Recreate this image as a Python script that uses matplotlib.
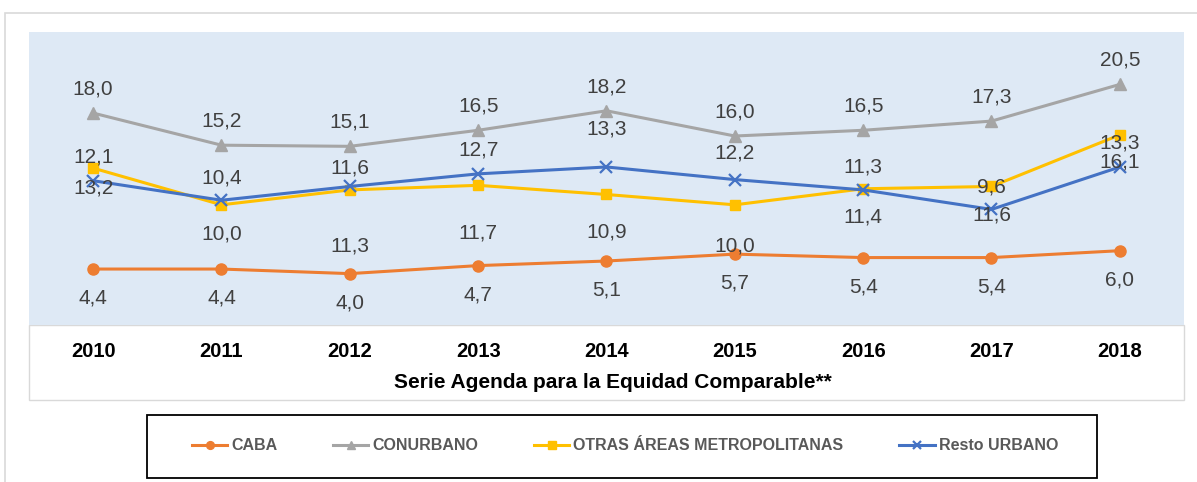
import numpy as np
import matplotlib
matplotlib.use("Agg")
import matplotlib.pyplot as plt
from matplotlib.patches import Rectangle

plt.rcParams['font.family'] = ['Liberation Sans', 'DejaVu Sans']

# data
years = ['2010', '2011', '2012', '2013', '2014', '2015', '2016', '2017', '2018']
caba = [4.4, 4.4, 4.0, 4.7, 5.1, 5.7, 5.4, 5.4, 6.0]
conurbano = [18.0, 15.2, 15.1, 16.5, 18.2, 16.0, 16.5, 17.3, 20.5]
otras = [13.2, 10.0, 11.3, 11.7, 10.9, 10.0, 11.4, 11.6, 16.1]
resto = [12.1, 10.4, 11.6, 12.7, 13.3, 12.2, 11.3, 9.6, 13.3]
series_names = ['CABA', 'CONURBANO', 'OTRAS ÁREAS METROPOLITANAS', 'Resto URBANO']
x_title = 'Serie Agenda para la Equidad Comparable**'

# label offsets in pixels (positive = below the point), as placed in the original
off_caba = [29] * 9
off_conurbano = [-24] * 9
off_otras = [20, 29, 56, 48, 38, 41, 28, 29, 27]
off_resto = [-24, -22, -18, -24, -38, -27, -23, -22, -24]

W, H = 1197, 482
fig = plt.figure(figsize=(W / 100, H / 100), dpi=100)

# chart area border, white axis band, legend box
fig.patches.append(Rectangle((5 / W, -0.1), 1.2, 1 - 13 / H + 0.1, transform=fig.transFigure,
                             fill=False, edgecolor='#D9D9D9', lw=1.2, zorder=-2))
fig.patches.append(Rectangle((29 / W, 1 - 400 / H), 1155 / W, 75 / H, transform=fig.transFigure,
                             facecolor='white', edgecolor='#D9D9D9', lw=1, zorder=-1))
fig.patches.append(Rectangle((147 / W, 1 - 478 / H), 950 / W, 63 / H, transform=fig.transFigure,
                             fill=False, edgecolor='black', lw=1.3, zorder=-1))

ax = fig.add_axes([29 / W, 1 - 325 / H, 1155 / W, 293 / H])
ax.set_facecolor('#DEE9F5')
for s in ax.spines.values():
    s.set_visible(False)

x = np.arange(len(years))
styles = [
    (caba, off_caba, '#ED7D31', 'o', 8),
    (conurbano, off_conurbano, '#A5A5A5', '^', 8.5),
    (otras, off_otras, '#FFC000', 's', 7.5),
    (resto, off_resto, '#4472C4', 'x', 8.5),
]
handles = []
for (vals, offs, col, mk, ms), name in zip(styles, series_names):
    ln, = ax.plot(x, vals, color=col, lw=2.2, marker=mk, ms=ms, mew=1.6 if mk == 'x' else 1,
                  label=name, zorder=3)
    handles.append(ln)
    for xi, v, o in zip(x, vals, offs):
        ax.annotate(f'{v:.1f}'.replace('.', ','), (xi, v), xytext=(0, -o * 0.72),
                    textcoords='offset points', ha='center', va='center',
                    fontsize=15, color='#404040', zorder=4)

ax.set_xlim(-0.5, len(years) - 0.5)
ax.set_ylim(-0.48, 25.07)
ax.set_yticks([])
ax.set_xticks(x)
ax.set_xticklabels(years, fontsize=14.5, fontweight='bold', color='black')
ax.tick_params(axis='x', length=0, pad=12)

fig.text(613 / W, 1 - 383 / H, x_title, ha='center', va='center',
         fontsize=15, fontweight='bold', color='black')

leg = fig.legend(handles=handles, loc='center', ncol=4, mode='expand',
                 bbox_to_anchor=(192 / W, 1 - 462 / H, 866 / W, 32 / H),
                 frameon=False, borderpad=0.0, borderaxespad=0,
                 handlelength=2.2, handletextpad=0.25, markerscale=0.7,
                 prop={'size': 11.5, 'weight': 'bold'})
for t in leg.get_texts():
    t.set_color('#595959')

fig.savefig('out.png', dpi=100)
